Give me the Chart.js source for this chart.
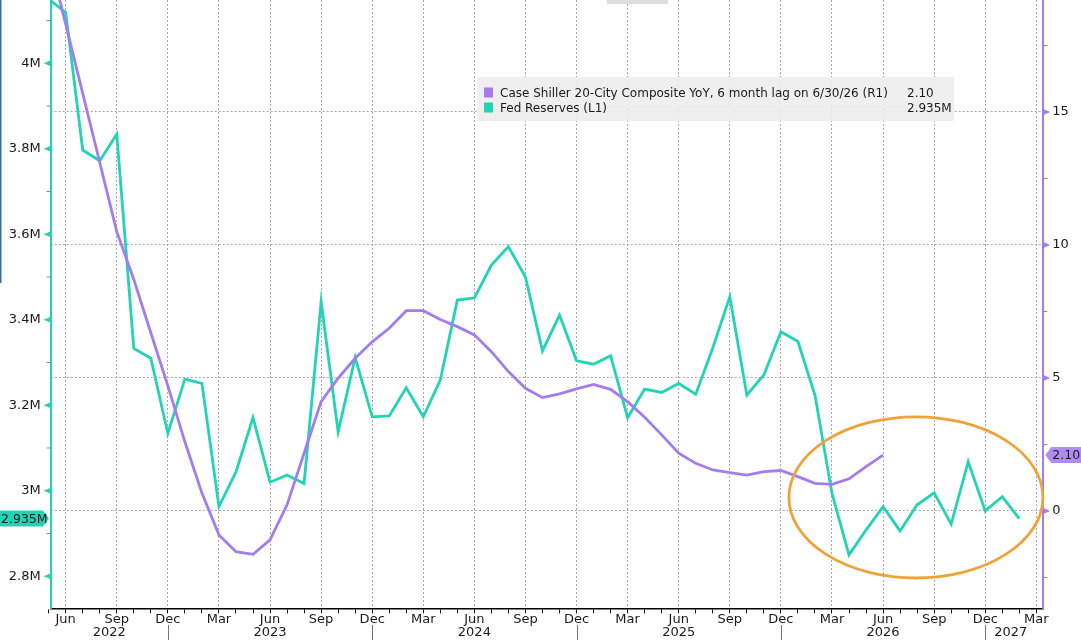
<!DOCTYPE html>
<html>
<head>
<meta charset="utf-8">
<script src="https://cdn.jsdelivr.net/npm/chart.js@4.4.1/dist/chart.umd.min.js"></script>
<style>
  html, body { margin: 0; padding: 0; background: #fff; }
  #wrap { position: relative; width: 1081px; height: 640px; }
</style>
</head>
<body>
<div id="wrap"><canvas id="chart" width="1081" height="640"></canvas></div>
<script>
// month-end dates, May 2022 .. Mar 2027
const months = [
  'May 2022','Jun 2022','Jul 2022','Aug 2022','Sep 2022','Oct 2022','Nov 2022','Dec 2022',
  'Jan 2023','Feb 2023','Mar 2023','Apr 2023','May 2023','Jun 2023','Jul 2023','Aug 2023','Sep 2023','Oct 2023','Nov 2023','Dec 2023',
  'Jan 2024','Feb 2024','Mar 2024','Apr 2024','May 2024','Jun 2024','Jul 2024','Aug 2024','Sep 2024','Oct 2024','Nov 2024','Dec 2024',
  'Jan 2025','Feb 2025','Mar 2025','Apr 2025','May 2025','Jun 2025','Jul 2025','Aug 2025','Sep 2025','Oct 2025','Nov 2025','Dec 2025',
  'Jan 2026','Feb 2026','Mar 2026','Apr 2026','May 2026','Jun 2026','Jul 2026','Aug 2026','Sep 2026','Oct 2026','Nov 2026','Dec 2026',
  'Jan 2027','Feb 2027','Mar 2027'
];

// Case Shiller 20-City YoY (%), right axis
const caseShiller = [
  20.9, 18.3, 15.7, 13.1, 10.5, 8.7, 6.7, 4.7,
  2.6, 0.67, -0.9, -1.53, -1.63, -1.09, 0.23, 2.17, 4.11, 4.99, 5.74, 6.36,
  6.87, 7.53, 7.53, 7.2, 6.93, 6.62, 5.99, 5.24, 4.61, 4.26, 4.40, 4.59,
  4.76, 4.57, 4.11, 3.52, 2.86, 2.17, 1.79, 1.54, 1.44, 1.35, 1.48, 1.52,
  1.29, 1.04, 1.00, 1.21, 1.67, 2.10
];

// Fed reserves (millions), left axis
const fedReserves = [
  4.150, 4.119, 3.797, 3.772, 3.834, 3.333, 3.310, 3.134,
  3.261, 3.251, 2.963, 3.044, 3.171, 3.020, 3.037, 3.017, 3.442, 3.138, 3.312, 3.173,
  3.175, 3.241, 3.173, 3.259, 3.446, 3.451, 3.528, 3.571, 3.500, 3.327, 3.411, 3.304,
  3.296, 3.316, 3.171, 3.238, 3.230, 3.251, 3.226, 3.334, 3.454, 3.224, 3.271, 3.372,
  3.349, 3.224, 2.994, 2.850, 2.908, 2.963, 2.906, 2.967, 2.995, 2.922, 3.068, 2.953,
  2.986, 2.935
];

const seriesNames = ['Case Shiller 20-City Composite YoY, 6 month lag on 6/30/26 (R1)', 'Fed Reserves (L1)'];
const leftTicks = [2.8, 2.9, 3.0, 3.1, 3.2, 3.3, 3.4, 3.5, 3.6, 3.7, 3.8, 3.9, 4.0, 4.1];
const leftLabels = ['2.8M', '', '3M', '', '3.2M', '', '3.4M', '', '3.6M', '', '3.8M', '', '4M', ''];
const rightTicks = [-2.5, 0, 2.5, 5, 7.5, 10, 12.5, 15, 17.5];
const rightLabels = ['', '0', '', '5', '', '10', '', '15', ''];
const quarterMonths = ['Mar', 'Jun', 'Sep', 'Dec'];
const years = ['2022', '2023', '2024', '2025', '2026', '2027'];

const PURPLE = '#a37cee';
const TEAL = '#22d3b6';
const GRID = '#a8a8a8';
const INK = '#1a1a1a';
const FONT = 'DejaVu Sans';

// no extra padding around the plot: the picture is cropped right at the top
const noPad = s => { s.paddingTop = 0; s.paddingBottom = 0; s.paddingLeft = 0; s.paddingRight = 0; };

// helper drawing: axis markers, badges, legend, year row, highlight ellipse
const decor = {
  id: 'decor',
  afterDraw(chart) {
    const c = chart.ctx;
    const a = chart.chartArea;
    const x = chart.scales.x, yL = chart.scales.yL, yR = chart.scales.yR;
    c.save();

    // left axis markers
    leftTicks.forEach((v, i) => {
      const py = yL.getPixelForValue(v);
      if (leftLabels[i]) {
        c.fillStyle = TEAL;
        c.beginPath(); c.moveTo(a.left, py - 3); c.lineTo(a.left - 7, py); c.lineTo(a.left, py + 3); c.fill();
      } else {
        c.strokeStyle = '#888'; c.lineWidth = 1;
        c.beginPath(); c.moveTo(a.left - 4, py); c.lineTo(a.left, py); c.stroke();
      }
    });
    // right axis markers
    rightTicks.forEach((v, i) => {
      const py = yR.getPixelForValue(v);
      if (rightLabels[i]) {
        c.fillStyle = PURPLE;
        c.beginPath(); c.moveTo(a.right, py - 3); c.lineTo(a.right + 7, py); c.lineTo(a.right, py + 3); c.fill();
      } else {
        c.strokeStyle = '#888'; c.lineWidth = 1;
        c.beginPath(); c.moveTo(a.right, py); c.lineTo(a.right + 4, py); c.stroke();
      }
    });

    // last-value badges
    c.font = '12.5px ' + FONT;
    c.textBaseline = 'middle';
    const lastL = fedReserves[fedReserves.length - 1];
    let py = yL.getPixelForValue(lastL);
    c.fillStyle = TEAL;
    c.beginPath(); c.moveTo(0, py - 8); c.lineTo(43, py - 8); c.lineTo(49, py); c.lineTo(43, py + 8); c.lineTo(0, py + 8); c.closePath(); c.fill();
    c.fillStyle = INK; c.textAlign = 'left';
    c.fillText(lastL.toFixed(3) + 'M', 1, py + 1);

    const lastR = caseShiller[caseShiller.length - 1];
    py = yR.getPixelForValue(lastR);
    c.fillStyle = '#b08cf2';
    c.beginPath(); c.moveTo(a.right + 2, py); c.lineTo(a.right + 8, py - 8); c.lineTo(1081, py - 8); c.lineTo(1081, py + 8); c.lineTo(a.right + 8, py + 8); c.closePath(); c.fill();
    c.fillStyle = INK;
    c.fillText(lastR.toFixed(2), a.right + 9, py + 1);

    // year row under month labels
    c.font = '13px ' + FONT;
    c.strokeStyle = '#777'; c.lineWidth = 1;
    c.fillStyle = INK; c.textAlign = 'center';
    years.forEach(yr => {
      const iStart = months.findIndex(m => m.endsWith(yr));
      let idxEnd = -1;
      months.forEach((m, i) => { if (m.endsWith(yr)) idxEnd = i; });
      const xs = Math.max(a.left, x.getPixelForValue(iStart - 1));
      const xe = Math.min(a.right, x.getPixelForValue(idxEnd));
      c.fillText(yr, (xs + xe) / 2, 633);
      if (months[idxEnd].startsWith('Dec') && x.getPixelForValue(idxEnd) < a.right) {
        const sx = Math.round(x.getPixelForValue(idxEnd)) + 0.5;
        c.beginPath(); c.moveTo(sx, 625); c.lineTo(sx, 640); c.stroke();
      }
    });

    // highlight ellipse around recent reserves
    const cx = x.getPixelForValue(50.93), cy = yR.getPixelForValue(0.51);
    const rx = x.getPixelForValue(50.93 + 7.46) - cx;
    const ry = cy - yR.getPixelForValue(0.51 + 3.03);
    c.strokeStyle = '#eea33a'; c.lineWidth = 2.8;
    c.beginPath(); c.ellipse(cx, cy, rx, ry, 0, 0, Math.PI * 2); c.stroke();

    // legend
    c.font = '12px ' + FONT;
    c.fillStyle = 'rgba(238,238,238,0.92)';
    c.fillRect(477, 77, 477, 44);
    const colors = [PURPLE, TEAL];
    const vals = [lastR.toFixed(2), lastL.toFixed(3) + 'M'];
    c.textAlign = 'left';
    seriesNames.forEach((n, i) => {
      const ry0 = 92.5 + i * 15;
      c.fillStyle = colors[i];
      c.fillRect(484, ry0 - 5, 9, 10);
      c.fillStyle = INK;
      c.fillText(n, 500, ry0 + 1);
      c.fillText(vals[i], 907, ry0 + 1);
    });

    // bits of the surrounding terminal window
    c.fillStyle = '#dedede'; c.fillRect(607, 0, 61, 4);
    c.fillStyle = '#3a6ba8'; c.fillRect(0, 0, 1.5, 283);
    c.restore();
  }
};

const chart = new Chart(document.getElementById('chart'), {
  type: 'line',
  data: {
    datasets: [
      {
        label: seriesNames[0],
        data: caseShiller.map((v, i) => ({ x: i, y: v })),
        yAxisID: 'yR', borderColor: PURPLE, borderWidth: 2.8,
        pointRadius: 0, tension: 0, fill: false
      },
      {
        label: seriesNames[1],
        data: fedReserves.map((v, i) => ({ x: i, y: v })),
        yAxisID: 'yL', borderColor: TEAL, borderWidth: 2.8,
        pointRadius: 0, tension: 0, fill: false
      }
    ]
  },
  options: {
    responsive: false,
    animation: false,
    layout: { padding: 0 },
    plugins: { legend: { display: false }, tooltip: { enabled: false } },
    scales: {
      x: {
        type: 'linear', position: 'bottom', min: 0.12, max: 58.41,
        afterBuildTicks: s => { s.ticks = months.map((m, i) => ({ value: i })); },
        afterFit: s => { s.height = 31.7; noPad(s); },
        border: { color: '#000', width: 1.5, dash: [2, 2] },
        grid: {
          color: ctx => quarterMonths.includes((months[ctx.tick && ctx.tick.value] || '').slice(0, 3)) ? GRID : 'rgba(0,0,0,0)',
          lineWidth: 1,
          drawTicks: true, tickLength: 5, tickColor: '#000', tickWidth: 1, tickBorderDash: []
        },
        ticks: {
          autoSkip: false, maxRotation: 0, padding: -1,
          color: INK, font: { family: FONT, size: 13 },
          callback: v => { const m = (months[v] || '').slice(0, 3); return quarterMonths.includes(m) ? m : ''; }
        }
      },
      yL: {
        position: 'left', min: 2.725, max: 4.148,
        afterBuildTicks: s => { s.ticks = leftTicks.map(v => ({ value: v })); },
        afterFit: s => { s.width = 50.7; noPad(s); },
        border: { color: TEAL, width: 2 },
        grid: { drawOnChartArea: false, drawTicks: false },
        ticks: {
          padding: 10, color: INK, font: { family: FONT, size: 13 },
          callback: v => leftLabels[leftTicks.findIndex(t => Math.abs(t - v) < 1e-6)] || ''
        }
      },
      yR: {
        position: 'right', min: -3.66, max: 19.21,
        afterBuildTicks: s => { s.ticks = rightTicks.map(v => ({ value: v })); },
        afterFit: s => { s.width = 37.7; noPad(s); },
        border: { color: PURPLE, width: 2, dash: [2, 2] },
        grid: {
          drawTicks: false, lineWidth: 1,
          color: ctx => (ctx.tick && ctx.tick.value % 5 === 0) ? GRID : 'rgba(0,0,0,0)'
        },
        ticks: {
          padding: 9, color: INK, font: { family: FONT, size: 13 },
          callback: v => rightLabels[rightTicks.findIndex(t => Math.abs(t - v) < 1e-6)] || ''
        }
      }
    }
  },
  plugins: [decor]
});
</script>
</body>
</html>
